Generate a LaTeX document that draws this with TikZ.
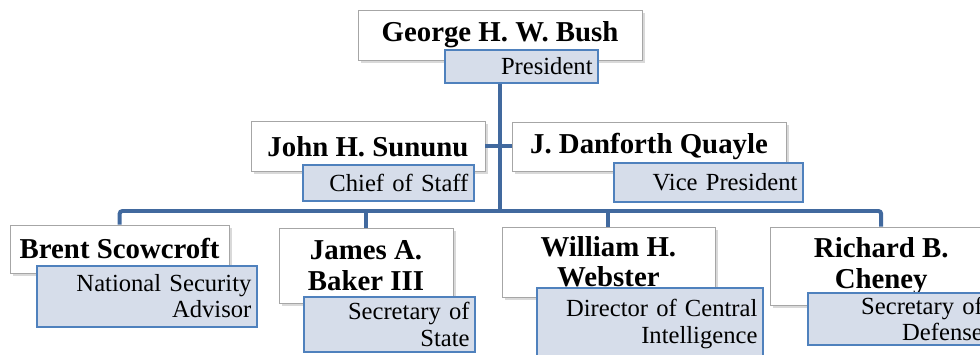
\documentclass[tikz,border=0pt]{standalone}
\usepackage{fontspec}
\setmainfont{Liberation Serif}
\usetikzlibrary{shadows}
\definecolor{linkblue}{HTML}{41699E}
\definecolor{postfill}{HTML}{D6DDEA}
\definecolor{postedge}{HTML}{4F81BD}

\begin{document}
\begin{tikzpicture}[
  person/.style={draw=black!35, fill=white, align=center, inner sep=2pt, font=\fontsize{20.5}{21.5}\selectfont\bfseries, drop shadow={shadow xshift=2pt, shadow yshift=-2pt, opacity=0.3}},
  post/.style={draw=postedge, line width=1.4pt, fill=postfill, align=right, inner xsep=4pt, inner ysep=1pt, font=\fontsize{17.5}{18.6}\selectfont},
  link/.style={draw=linkblue, line width=2.8pt, rounded corners=2pt}
]
\useasboundingbox (0,0) rectangle (24.5,-8.85);

% top
\node[person, minimum width=7.1cm, minimum height=1.25cm] (bush) at (12.5,-0.875) {George H. W. Bush};
\node[post, text width=3.55cm, minimum height=0.83cm] (president) at (13.04,-1.66) {President};

% second row
\node[person, minimum width=5.85cm, minimum height=1.25cm] (sununu) at (9.2,-3.66) {John H. Sununu};
\node[post, text width=4.0cm, minimum height=0.9cm] (chief) at (9.71,-4.575) {Chief of Staff};
\node[person, minimum width=6.85cm, minimum height=1.23cm] (quayle) at (16.225,-3.66) {J. Danforth Quayle};
\node[post, text width=4.45cm, minimum height=0.98cm] (vp) at (17.71,-4.56) {Vice President};

% cabinet row
\node[person, minimum width=5.48cm, minimum height=1.2cm] (scowcroft) at (2.99,-6.22) {Brent Scowcroft};
\node[post, text width=5.22cm, minimum height=1.53cm] (nsa) at (3.675,-7.41) {National Security\\Advisor};
\node[person, minimum width=4.35cm, minimum height=1.88cm] (baker) at (9.15,-6.64) {James A.\\Baker III};
\node[post, text width=4.0cm, minimum height=1.38cm] (state) at (9.74,-8.11) {Secretary of\\State};
\node[person, minimum width=5.33cm, minimum height=1.75cm] (webster) at (15.21,-6.55) {William H.\\Webster};
\node[post, text width=5.37cm, minimum height=1.8cm] (dci) at (16.25,-8.1) {Director of Central\\Intelligence};
\node[person, minimum width=5.55cm, minimum height=1.95cm] (cheney) at (22.03,-6.65) {Richard B.\\Cheney};
\node[post, text width=4.22cm, minimum height=1.3cm] (defense) at (22.46,-7.98) {Secretary of\\Defense};

% connectors
\coordinate (bar) at (12.5,-5.275);
\draw[link] (bush.south |- president.south) -- (bar);
\draw[link] (sununu.east) -- (quayle.west);
\draw[link] (scowcroft.north) |- (bar) -| (cheney.north);
\draw[link] (baker.north) -- (baker.north |- bar);
\draw[link] (webster.north) -- (webster.north |- bar);

\end{tikzpicture}
\end{document}
